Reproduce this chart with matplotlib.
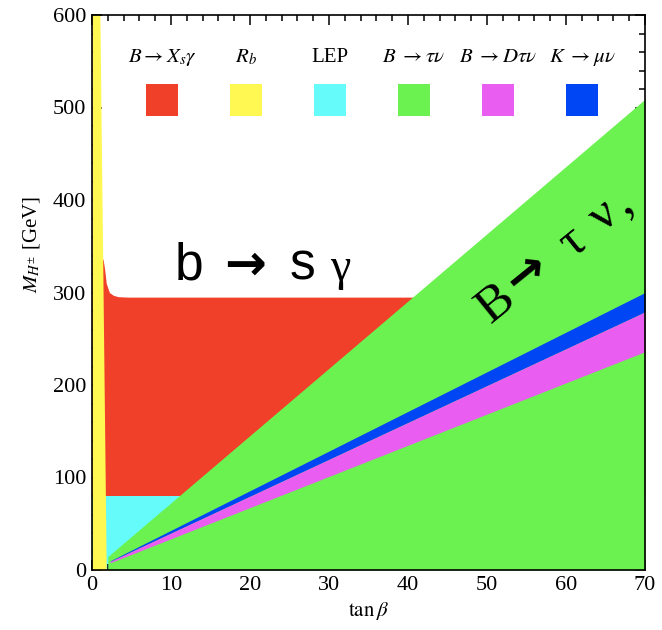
import math
import matplotlib
matplotlib.use("Agg")
import matplotlib.pyplot as plt
from matplotlib.patches import Rectangle
from matplotlib.ticker import MultipleLocator
from matplotlib.transforms import offset_copy

plt.rcParams['font.family'] = ['Liberation Serif', 'DejaVu Serif']
plt.rcParams['mathtext.fontset'] = 'stix'

# ---- data ----
tanb_range = [0, 70]
mass_range = [0, 600]

# R_b excluded region: left of this edge
rb_edge_mass = [0, 600]
rb_edge_tanb = [1.8, 1.0]

# B -> X_s gamma lower bound on M_H
bsg_tanb = [0, 1.4, 1.6, 1.8, 2.2, 2.7, 3.3, 4.5, 70]
bsg_mass = [336, 336, 325, 310, 300, 297, 295.5, 295, 295]

# LEP bound
lep_mass = 80

# B -> tau nu excluded wedge (upper edge)
btn_tanb = [2.0, 70]
btn_upper = [14.5, 509]

# narrow strips (K -> mu nu, B -> D tau nu)
strip_tanb = [2.3, 70]
kmn_upper = [9.9, 300]
kmn_lower = [9.2, 279]
dtn_lower = [7.8, 236]

legend_labels = [r"$B\to X_s\gamma$", r"$R_b$", "LEP",
                 r"$B\ \to\tau\nu$", r"$B\ \to D\tau\nu$", r"$K\ \to\mu\nu$"]
colors = {"red": "#F1402A", "yellow": "#FFF752", "cyan": "#64FBFA",
          "green": "#6BF250", "pink": "#EA5DF1", "blue": "#0046F4"}
legend_colors = [colors[c] for c in ["red", "yellow", "cyan", "green", "pink", "blue"]]

W, H = 662, 630
fig = plt.figure(figsize=(W / 100, H / 100), dpi=100)
ax = fig.add_axes([92 / W, 1 - 570 / H, (645 - 92) / W, (570 - 15) / H])

ax.fill_between(bsg_tanb, lep_mass, bsg_mass, color=colors["red"], lw=0, zorder=1)
ax.fill_between(tanb_range, 0, lep_mass, color=colors["cyan"], lw=0, zorder=1)
ax.fill_between(btn_tanb, 0, btn_upper, color=colors["green"], lw=0, zorder=2)
ax.fill_between(strip_tanb, kmn_lower, kmn_upper, color=colors["blue"], lw=0, zorder=3)
ax.fill_between(strip_tanb, dtn_lower, kmn_lower, color=colors["pink"], lw=0, zorder=3)
ax.fill_betweenx(rb_edge_mass, 0, rb_edge_tanb, color=colors["yellow"], lw=0, zorder=4)

ax.set_xlim(tanb_range)
ax.set_ylim(mass_range)
ax.xaxis.set_major_locator(MultipleLocator(10))
ax.xaxis.set_minor_locator(MultipleLocator(2))
ax.yaxis.set_major_locator(MultipleLocator(100))
ax.yaxis.set_minor_locator(MultipleLocator(20))
ax.tick_params(which='both', direction='in', top=True, right=True, labelsize=16, pad=4)
ax.tick_params(which='major', length=7, width=1.1)
ax.tick_params(which='minor', length=4, width=1.1)
for s in ax.spines.values():
    s.set_linewidth(1.2)
    s.set_zorder(10)

ax.set_xlabel(r"$\tan\beta$", fontsize=15, labelpad=4)
ax.set_ylabel(r"$M_{H^{\pm}}$ [GeV]", fontsize=15)
ax.yaxis.set_label_coords(-0.090, 0.586)

# legend (labels above squares)
for i, (lab, col) in enumerate(zip(legend_labels, legend_colors)):
    cx = 162 + 84 * i
    fig.text(cx / W, 1 - 57 / H, lab, ha='center', va='center', fontsize=15)
    ax.add_patch(Rectangle(((cx - 16) / W, 1 - 116 / H), 32 / W, 32 / H,
                           transform=fig.transFigure, facecolor=col,
                           edgecolor='none', clip_on=False, zorder=6))

# annotation: b -> s gamma
sans = ['Liberation Sans', 'DejaVu Sans']
ax.text(10.5, 314, "b", fontsize=37, ha='left', va='baseline', family=sans, zorder=7)
ax.text(19.4, 314, "\u2192", fontsize=36, ha='center', va='baseline',
        family='DejaVu Sans', fontweight='bold', zorder=7)
ax.text(25.0, 314, "s", fontsize=37, ha='left', va='baseline', family=sans, zorder=7)
ax.text(30.2, 314, "\u03b3", fontsize=33, ha='left', va='baseline',
        family=['Liberation Serif', 'DejaVu Serif'], zorder=7)

# annotation: B -> tau nu, (rotated, pieces along the baseline)
ang = 39.0
ca, sa = math.cos(math.radians(ang)), math.sin(math.radians(ang))
anchor = (50.5, 266.0)
pieces = [("B", 0, 0, 'left', ['Liberation Serif'], 'normal', 37),
          ("\u2192", 60, 4, 'center', ['DejaVu Sans'], 'bold', 35),
          ("\u03c4", 115, 0, 'center', ['Liberation Serif', 'DejaVu Serif'], 'normal', 37),
          ("\u03bd", 156, 0, 'center', ['Liberation Serif', 'DejaVu Serif'], 'normal', 37),
          (",", 173, 0, 'left', ['Liberation Serif'], 'normal', 37)]
for txt, along, perp, ha, fam, fw, fs in pieces:
    dx = along * ca - perp * sa
    dy = along * sa + perp * ca
    tr = offset_copy(ax.transData, fig=fig, x=dx, y=dy, units='dots')
    ax.text(anchor[0], anchor[1], txt, transform=tr, fontsize=fs, ha=ha,
            va='baseline', rotation=ang, rotation_mode='anchor',
            family=fam, fontweight=fw, zorder=7)

fig.savefig("out.png", dpi=100)
